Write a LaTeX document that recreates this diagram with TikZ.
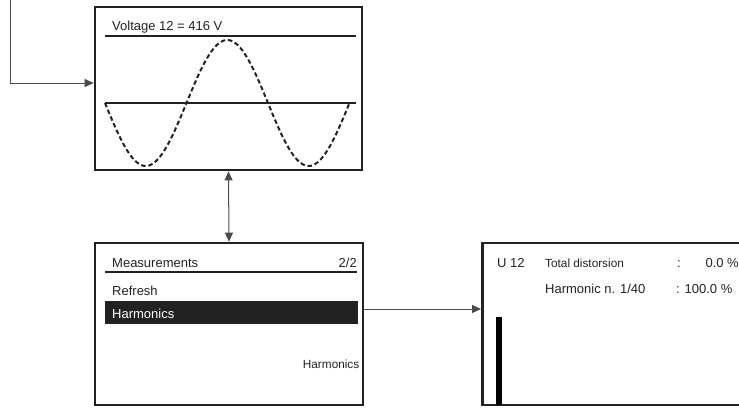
\documentclass[tikz,border=0pt]{standalone}
\usepackage{fontspec}
\setmainfont{Liberation Sans}
\usetikzlibrary{arrows.meta}
\definecolor{ink}{HTML}{222222}
\definecolor{wire}{HTML}{4A4A4A}
\tikzset{
  screen/.style={draw=ink, line width=2.7pt, rectangle, inner sep=0pt},
  lbl/.style={inner sep=0pt, font=\fontsize{13}{15}\selectfont, text=ink},
  slbl/.style={inner sep=0pt, font=\fontsize{11.8}{14}\selectfont, text=ink},
  conn/.style={draw=wire, line width=1pt, -{Triangle[length=9pt,width=8pt]}},
  rule/.style={draw=ink, line width=1.8pt},
}
\begin{document}
\begin{tikzpicture}[x=1pt,y=-1pt]
\useasboundingbox (0,0) rectangle (739,407);
\clip (0,0) rectangle (739,407);
% screens
\node[screen, minimum width=267pt, minimum height=163pt] (s1) at (228.5,88.5) {};
\node[screen, minimum width=268pt, minimum height=162pt] (s2) at (229,324) {};
\node[screen, minimum width=280pt, minimum height=162pt, anchor=west] (s3) at (481,324) {};
% screen 1 content
\node[lbl, anchor=base west] (t1) at (112,30.5) {Voltage 12 = 416 V};
\draw[rule] (105,36) -- (356,36);
\draw[rule] (105,103) -- (356,103);
\draw[ink, line width=2pt, dash pattern=on 4.5pt off 2.8pt]
  plot[domain=0:540, samples=120, smooth] ({105+\x/360*163}, {103+63*sin(\x)});
% screen 2 content
\node[lbl, anchor=base west] (t2) at (112,267) {Measurements};
\node[lbl, anchor=base east] (t3) at (357,267) {2/2};
\draw[rule] (105,272) -- (357,272);
\node[lbl, anchor=base west] (t4) at (112,295) {Refresh};
\fill[ink] (105,301) rectangle (358,324);
\node[lbl, anchor=base west, text=white] (t5) at (112,318) {Harmonics};
\node[slbl, anchor=base east] (t6) at (359.5,368) {Harmonics};
% screen 3 content
\node[lbl, anchor=base west] (t7) at (497,267) {U 12};
\node[slbl, anchor=base west] (t8) at (545,267) {Total distorsion};
\node[lbl, anchor=base west] (t9) at (677,267) {:};
\node[lbl, anchor=base east] (t10) at (739,267) {0.0 \%};
\node[lbl, anchor=base west] (t11) at (545,293) {Harmonic n. 1/40};
\node[lbl, anchor=base west] (t12) at (676,293) {: 100.0 \%};
\fill[black] (495.5,317) rectangle (501.5,405);
% connectors
\coordinate (start) at (10,0);
\draw[conn] (start) |- (s1.west |- 0,83);
\draw[draw=wire, line width=1pt, {Triangle[length=9pt,width=8pt]}-{Triangle[length=9pt,width=8pt]}] (s1.south) -- (s2.north);
\draw[conn] (s2.east |- 0,309) -- (s3.west |- 0,309);
\end{tikzpicture}
\end{document}
